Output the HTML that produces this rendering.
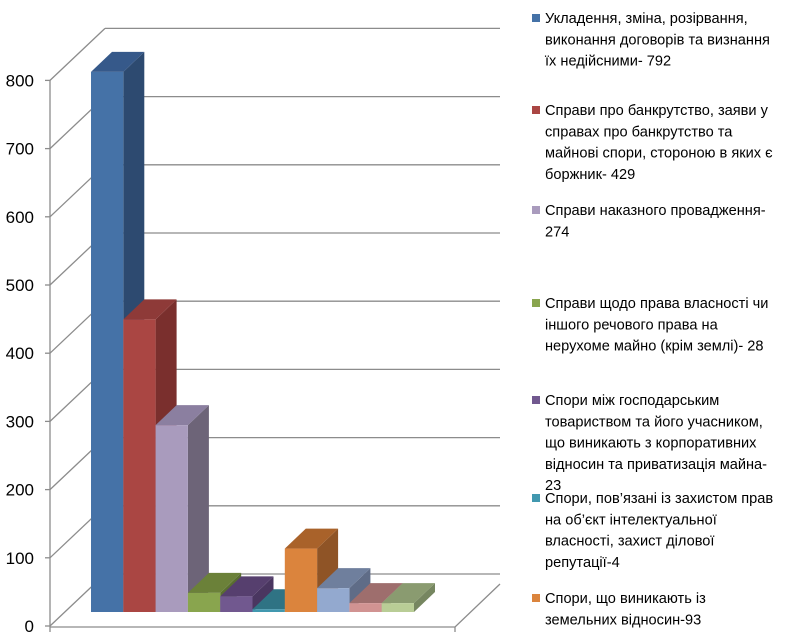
<!DOCTYPE html>
<html><head><meta charset="utf-8"><style>
html,body{margin:0;padding:0;background:#fff;}
svg{display:block;font-family:"Liberation Sans",sans-serif;}
</style></head><body>
<svg id="chart" width="800" height="639" viewBox="0 0 800 639" xmlns="http://www.w3.org/2000/svg">
<g id="grid"></g>
<g id="axis"></g>
<g id="bars"></g>
<g id="legend"></g>
</svg>
<script>
const categories = ["Укладення, зміна, розірвання договорів","Справи про банкрутство","Справи наказного провадження","Справи щодо права власності","Спори між господарським товариством","Спори щодо інтелектуальної власності","Спори, що виникають із земельних відносин","Інше 1","Інше 2","Інше 3"];
const values = [792, 429, 274, 28, 23, 4, 93, 35, 13, 13];
const tickValues = [0,100,200,300,400,500,600,700,800];
const tickLabels = ["0","100","200","300","400","500","600","700","800"];
const legendLines = [
 ["Укладення, зміна, розірвання,","виконання договорів та визнання","їх недійсними- 792"],
 ["Справи про банкрутство, заяви у","справах про банкрутство та","майнові спори, стороною в яких є","боржник- 429"],
 ["Справи наказного провадження-","274"],
 ["Справи щодо права власності чи","іншого речового права на","нерухоме майно (крім землі)- 28"],
 ["Спори між господарським","товариством та його учасником,","що виникають з корпоративних","відносин та приватизація майна-","23"],
 ["Спори, пов’язані із захистом прав","на об’єкт інтелектуальної","власності, захист ділової","репутації-4"],
 ["Спори, що виникають із","земельних відносин-93"]
];
const legendTop = [18,110,210,303,400,498,598];
const colors = [
 ["#4572A7","#36598A","#2D4A70"],["#AA4643","#8E3A38","#7A2F2D"],["#A99BBD","#8B7FA0","#6D6478"],
 ["#89A54E","#6B8139","#5A6E30"],["#71588F","#563F6E","#4A3660"],["#4198AF","#2F7384","#286475"],
 ["#DB843D","#A9622A","#8F5426"],["#93A9CF","#6F7F9D","#5F6C87"],["#D19392","#9E6E6D","#8A5E5D"],["#B9CD96","#8A9B70","#768660"]];
const NS="http://www.w3.org/2000/svg";
function sy(v){return v*0.682;}
const axisY0=626, barY0=612, barX0=91, barW=32.3, ddx=21, ddy=-20, wdx=55, wdy=-52;
function mk(tag,attrs,parent){const e=document.createElementNS(NS,tag);for(const k in attrs)e.setAttribute(k,attrs[k]);parent.appendChild(e);return e;}
const grid=document.getElementById('grid'), axis=document.getElementById('axis'), bars=document.getElementById('bars'), legend=document.getElementById('legend');
tickValues.forEach((v,i)=>{
 const y=axisY0-sy(v);
 const gl=mk('line',{x1:50+wdx,y1:y+wdy,x2:500,y2:y+wdy,stroke:'#8c8c8c','stroke-width':1.3},grid);
 
 
 const dg=mk('line',{x1:50,y1:y,x2:50+wdx,y2:y+wdy,stroke:'#8c8c8c','stroke-width':1.3},grid);
 
 
 const tk=mk('line',{x1:45,y1:y,x2:50,y2:y,stroke:'#8c8c8c','stroke-width':1.3},axis);
 
 
 const t=mk('text',{x:34,y:y+6,'text-anchor':'end','font-size':17,fill:'#000'},axis);
 t.textContent=tickLabels[i];
 
 
});
const al=mk('line',{x1:50,y1:axisY0-sy(800),x2:50,y2:axisY0+1,stroke:'#8c8c8c','stroke-width':1.3},axis);


const fl=mk('polyline',{points:'50,627 455,627 500,584',fill:'none',stroke:'#8c8c8c','stroke-width':1.3},axis);


[50,455].forEach(x=>{const t=mk('line',{x1:x,y1:627,x2:x,y2:632,stroke:'#8c8c8c','stroke-width':1.3},axis);
 
 });
values.forEach((v,i)=>{
 const x=barX0+i*barW, top=barY0-sy(v), c=colors[i];
 const g=mk('g',{},bars);
 
 
 mk('polygon',{points:`${x+barW},${top} ${x+barW+ddx},${top+ddy} ${x+barW+ddx},${barY0+ddy} ${x+barW},${barY0}`,fill:c[2]},g);
 mk('polygon',{points:`${x},${top} ${x+ddx},${top+ddy} ${x+barW+ddx},${top+ddy} ${x+barW},${top}`,fill:c[1]},g);
 mk('rect',{x:x,y:top,width:barW,height:barY0-top,fill:c[0]},g);
});
legendLines.forEach((lines,i)=>{
 const g=mk('g',{},legend);
 
 
 const y0=legendTop[i];
 mk('rect',{x:532,y:y0-4,width:8,height:8,fill:colors[i][0]},g);
 lines.forEach((ln,j)=>{
  const t=mk('text',{x:545,y:y0+5+j*21.3,'font-size':14.6,fill:'#000'},g);
  t.textContent=ln;
 });
});
</script>
</body></html>
